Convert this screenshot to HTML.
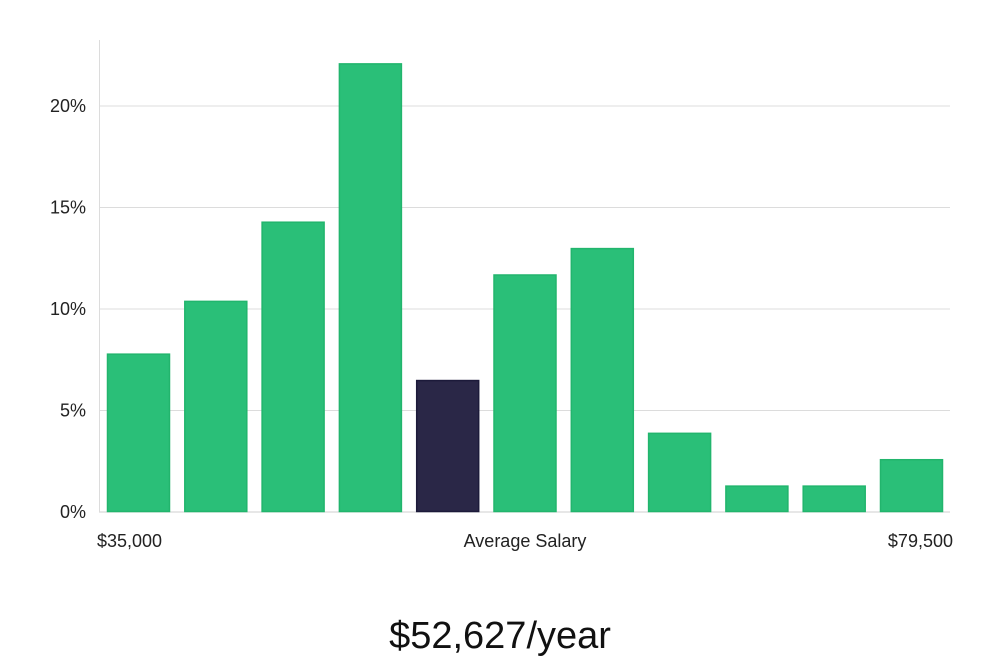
<!DOCTYPE html>
<html><head><meta charset="utf-8"><style>
html,body{margin:0;padding:0;background:#fff;width:1000px;height:660px;overflow:hidden;font-family:"Liberation Sans","DejaVu Sans",sans-serif}
</style></head><body>
<svg id="chart" width="1000" height="660" xmlns="http://www.w3.org/2000/svg"></svg>
<script>
const categories=["b1","b2","b3","b4","b5","b6","b7","b8","b9","b10","b11"];
const values=[7.8,10.4,14.3,22.1,6.5,11.7,13.0,3.9,1.3,1.3,2.6];
const highlight=[false,false,false,false,true,false,false,false,false,false,false];
const yTicks=[0,5,10,15,20];
const yTickLabels=["0%","5%","10%","15%","20%"];
const xLabels=["$35,000","Average Salary","$79,500"];
const avgLabel="$52,627/year";

const svg=document.getElementById('chart');
const NS="http://www.w3.org/2000/svg";
const x0=107, step=77.3, bw=63, yBase=512, pxPer=20.3;
const yScale=v=>yBase-v*pxPer;
const xScale=i=>x0+i*step;
function mk(tag,attrs){const e=document.createElementNS(NS,tag);for(const k in attrs)e.setAttribute(k,attrs[k]);svg.appendChild(e);return e;}

yTicks.forEach((t,i)=>{
  const y=yScale(t);
  const g=mk('line',{x1:99,x2:950,y1:y,y2:y,stroke:i===0?'#cfcfcf':'#dcdcdc','stroke-width':1});
  
  
  const tx=mk('text',{x:86,y:y+6,'text-anchor':'end','font-size':18,fill:'#222'});
  tx.textContent=yTickLabels[i];
  
  
});
const ax=mk('line',{x1:99.5,x2:99.5,y1:40,y2:512,stroke:'#dcdcdc','stroke-width':1});



values.forEach((v,i)=>{
  const y=yScale(v);
  const r=mk('rect',{x:xScale(i)+0.5,y:y+0.5,width:bw-1,height:yBase-y-1,
    fill:highlight[i]?'#2a2747':'#2abf78',stroke:highlight[i]?'#1c1a3a':'#22b56d','stroke-width':1.5});
  
  
});

const xl=[[97,'start'],[525,'middle'],[953,'end']];
xLabels.forEach((l,i)=>{
  const t=mk('text',{x:xl[i][0],y:547,'text-anchor':xl[i][1],'font-size':18,fill:'#222'});
  t.textContent=l;
  
  
});
const a=mk('text',{x:500,y:648,'text-anchor':'middle','font-size':38,fill:'#111'});
a.textContent=avgLabel;


</script>
</body></html>
